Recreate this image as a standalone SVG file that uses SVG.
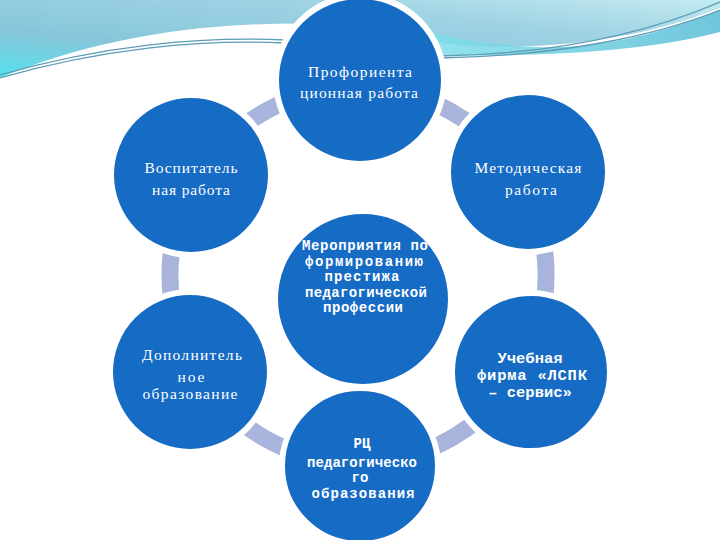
<svg xmlns="http://www.w3.org/2000/svg" width="720" height="540" viewBox="0 0 720 540">
<defs>
<linearGradient id="sky" x1="0" y1="1" x2="1" y2="0">
<stop offset="0" stop-color="#55e2ee"/>
<stop offset="0.3" stop-color="#86c6da"/>
<stop offset="0.7" stop-color="#9fd3e4"/>
<stop offset="1" stop-color="#c4eaf1"/>
</linearGradient>
<linearGradient id="wedge" x1="0" y1="0" x2="1" y2="0">
<stop offset="0" stop-color="#7fe0ea"/>
<stop offset="1" stop-color="#58bcd6"/>
</linearGradient>
<style>
.node{fill:#166bc4;stroke:#ffffff;stroke-width:6}
.ring{fill:none;stroke:#a9b4dd;stroke-width:17;stroke-linecap:butt}
.serif{font-family:"Liberation Serif","DejaVu Serif",serif;font-size:15.5px;fill:#ffffff;text-anchor:middle}
.mono{font-family:"Liberation Mono","DejaVu Sans Mono",monospace;font-size:14px;font-weight:bold;fill:#ffffff;text-anchor:middle}
.big{font-size:15.5px}
.swoosh{fill:none;stroke:#5d9cb6;stroke-width:1.3}
</style>
</defs>
<rect width="720" height="540" fill="#ffffff"/>
<g id="background">
<path d="M0,0 H720 V8 C640,40 545,50 470,46 C420,43 385,26 330,24 C200,20 90,40 0,78 Z" fill="url(#sky)"/>
<path d="M425,30 C470,44 520,48 565,47 C625,44 680,26 720,10 V32 C660,48 560,58 430,55 Z" fill="url(#wedge)" opacity="0.85"/>
<path class="swoosh" d="M0,75 C100,46 200,36 285,40"/>
<path class="swoosh" d="M0,78 C100,49 200,39 285,43" stroke="#8cc6d6"/>
<path class="swoosh" d="M440,56 C560,54 650,32 720,2"/>
<path class="swoosh" d="M440,58 C560,56 655,36 720,10" stroke="#7cc0d4"/>
</g>
<g id="connectors">
<path class="ring" d="M358,87 A188,188 0 0 1 518.5,177"/>
<path class="ring" d="M518.5,177 A188,188 0 0 1 522,367"/>
<path class="ring" d="M522,367 A188,188 0 0 1 358,463"/>
<path class="ring" d="M358,463 A188,188 0 0 1 195.2,369"/>
<path class="ring" d="M195.2,369 A188,188 0 0 1 196.8,178.2"/>
<path class="ring" d="M196.8,178.2 A188,188 0 0 1 358,87"/>
</g>
<g id="node-top">
<circle class="node" cx="360" cy="80" r="84"/>
<text class="serif" x="360" y="77" textLength="104" lengthAdjust="spacing">Профориента</text>
<text class="serif" x="359" y="98" textLength="118" lengthAdjust="spacing">ционная работа</text>
</g>
<g id="node-left">
<circle class="node" cx="191" cy="175" r="80"/>
<text class="serif" x="191" y="173" textLength="93" lengthAdjust="spacing">Воспитатель</text>
<text class="serif" x="191" y="195" textLength="78" lengthAdjust="spacing">ная работа</text>
</g>
<g id="node-right">
<circle class="node" cx="528" cy="172" r="80"/>
<text class="serif" x="528" y="173" textLength="107" lengthAdjust="spacing">Методическая</text>
<text class="serif" x="531" y="195" textLength="52" lengthAdjust="spacing">работа</text>
</g>
<g id="node-center">
<circle class="node" cx="363" cy="299" r="88"/>
<text class="mono" x="365" y="250" textLength="126" lengthAdjust="spacing">Мероприятия по</text>
<text class="mono" x="364" y="266" textLength="118" lengthAdjust="spacing">формированию</text>
<text class="mono" x="362" y="281" textLength="75" lengthAdjust="spacing">престижа</text>
<text class="mono" x="366" y="297" textLength="122" lengthAdjust="spacing">педагогической</text>
<text class="mono" x="363" y="312" textLength="80" lengthAdjust="spacing">профессии</text>
</g>
<g id="node-bottom-left">
<circle class="node" cx="190" cy="372" r="80"/>
<text class="serif" x="192" y="360" textLength="100" lengthAdjust="spacing">Дополнитель</text>
<text class="serif" x="191" y="382" textLength="27" lengthAdjust="spacing">ное</text>
<text class="serif" x="190" y="399" textLength="95" lengthAdjust="spacing">образование</text>
</g>
<g id="node-bottom-right">
<circle class="node" cx="531" cy="372" r="79"/>
<text class="mono big" x="530" y="363" textLength="65" lengthAdjust="spacing">Учебная</text>
<text class="mono big" x="532" y="380" textLength="110" lengthAdjust="spacing">фирма «ЛСПК</text>
<text class="mono big" x="530" y="397">– сервис»</text>
</g>
<g id="node-bottom">
<circle class="node" cx="360" cy="466" r="78"/>
<text class="mono" x="362" y="448">РЦ</text>
<text class="mono" x="362" y="467" textLength="110" lengthAdjust="spacing">педагогическо</text>
<text class="mono" x="360" y="482">го</text>
<text class="mono" x="363" y="498" textLength="103" lengthAdjust="spacing">образования</text>
</g>
</svg>
